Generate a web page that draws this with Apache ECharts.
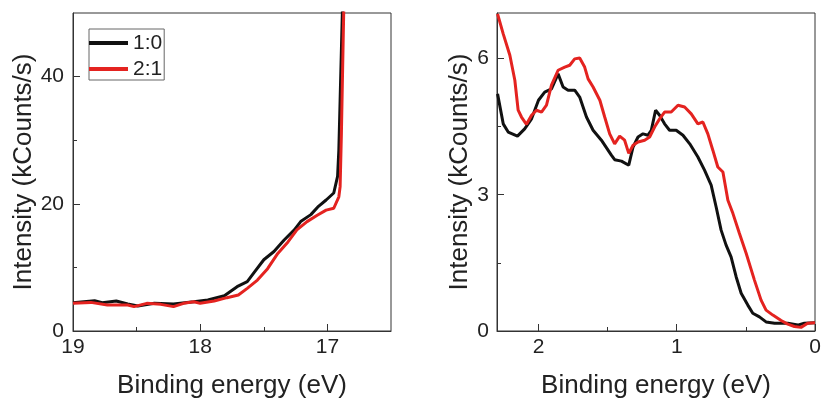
<!DOCTYPE html>
<html>
<head>
<meta charset="utf-8">
<script src="https://cdn.jsdelivr.net/npm/echarts@6/dist/echarts.min.js"></script>
<style>
html,body{margin:0;padding:0;background:#fff;}
#c{width:822px;height:401px;}
</style>
</head>
<body>
<div id="c"></div>
<script>
// ---- Left panel (secondary electron cut-off) ----
const leftE_10 = [19.0, 18.83, 18.77, 18.66, 18.57, 18.49, 18.36, 18.21, 18.05, 17.94, 17.81, 17.71, 17.63, 17.58, 17.50, 17.42, 17.34, 17.26, 17.21, 17.13, 17.07, 17.01, 16.95, 16.92, 16.91, 16.90, 16.88];
const leftI_10 = [4.45, 4.76, 4.45, 4.71, 4.24, 3.93, 4.35, 4.24, 4.61, 4.87, 5.55, 6.97, 7.76, 9.1, 11.2, 12.5, 14.3, 15.9, 17.2, 18.3, 19.6, 20.6, 21.7, 24.3, 28.5, 36.3, 52];
const leftE_21 = [19.0, 18.86, 18.73, 18.57, 18.52, 18.42, 18.31, 18.21, 18.13, 18.05, 18.0, 17.89, 17.79, 17.70, 17.63, 17.55, 17.47, 17.39, 17.31, 17.24, 17.16, 17.08, 17.01, 16.95, 16.91, 16.90, 16.89, 16.87];
const leftI_21 = [4.35, 4.5, 4.09, 4.09, 3.83, 4.35, 4.19, 3.83, 4.35, 4.61, 4.35, 4.71, 5.24, 5.66, 6.7, 8.0, 9.8, 12.2, 14.0, 15.9, 17.2, 18.2, 19.0, 19.3, 21.1, 22.7, 31, 52];

// ---- Right panel (valence band) ----
const rightE_10 = [2.296, 2.255, 2.219, 2.152, 2.10, 2.05, 2.0, 1.955, 1.906, 1.858, 1.822, 1.786, 1.738, 1.702, 1.653, 1.605, 1.545, 1.473, 1.449, 1.40, 1.347, 1.316, 1.28, 1.244, 1.208, 1.184, 1.153, 1.124, 1.088, 1.052, 1.004, 0.955, 0.906, 0.847, 0.799, 0.751, 0.715, 0.679, 0.643, 0.607, 0.570, 0.534, 0.486, 0.450, 0.402, 0.354, 0.292, 0.197, 0.125, 0.077, 0.0];
const rightI_10 = [5.22, 4.56, 4.38, 4.29, 4.45, 4.67, 5.08, 5.26, 5.33, 5.66, 5.37, 5.30, 5.30, 5.15, 4.71, 4.42, 4.20, 3.87, 3.77, 3.74, 3.65, 4.05, 4.27, 4.34, 4.31, 4.42, 4.86, 4.75, 4.56, 4.42, 4.42, 4.31, 4.12, 3.83, 3.54, 3.21, 2.73, 2.22, 1.89, 1.63, 1.19, 0.83, 0.57, 0.39, 0.31, 0.20, 0.17, 0.17, 0.13, 0.17, 0.18];
const rightE_21 = [2.296, 2.255, 2.207, 2.171, 2.147, 2.123, 2.087, 2.05, 2.014, 1.978, 1.942, 1.906, 1.858, 1.81, 1.774, 1.738, 1.702, 1.666, 1.641, 1.605, 1.556, 1.521, 1.485, 1.449, 1.413, 1.377, 1.347, 1.316, 1.28, 1.232, 1.196, 1.16, 1.124, 1.088, 1.04, 0.991, 0.943, 0.895, 0.847, 0.811, 0.775, 0.739, 0.703, 0.666, 0.630, 0.594, 0.547, 0.498, 0.438, 0.39, 0.354, 0.305, 0.245, 0.197, 0.149, 0.101, 0.053, 0.0];
const rightI_21 = [6.98, 6.54, 6.07, 5.52, 4.86, 4.71, 4.55, 4.75, 4.86, 4.82, 4.97, 5.41, 5.74, 5.81, 5.85, 5.99, 6.01, 5.81, 5.55, 5.37, 5.08, 4.71, 4.34, 4.12, 4.29, 4.20, 3.91, 4.09, 4.16, 4.20, 4.27, 4.49, 4.67, 4.82, 4.82, 4.97, 4.93, 4.78, 4.56, 4.60, 4.34, 3.98, 3.61, 3.50, 2.88, 2.59, 2.15, 1.71, 1.12, 0.68, 0.46, 0.35, 0.23, 0.15, 0.10, 0.08, 0.17, 0.18];

// ---- Axis ticks ----
const seriesNames = ['1:0', '2:1'];
const leftXLabels = [17, 18, 19];
const leftXMinor = [17.5, 18.5];
const leftYLabels = [0, 20, 40];
const leftYMinor = [10, 30];
const rightXLabels = [0, 1, 2];
const rightXMinor = [0.5, 1.5];
const rightYLabels = [0, 3, 6];
const rightYMinor = [1.5, 4.5];
const xTitle = 'Binding energy (eV)';
const yTitle = 'Intensity (kCounts/s)';

const FONT = '"Liberation Sans", Arial, sans-serif';
const AX = '#333';
const TXT = '#222';
const BLACK = '#111111';
const RED = '#e42320';

function pairs(xs, ys) { return xs.map((x, i) => [x, ys[i]]); }

function majorAxis(pos, gridIndex, min, max, inverse, labels, name, nameGap, margin) {
  return {
    type: 'value', gridIndex, min, max, inverse, position: pos,
    name, nameLocation: 'middle', nameGap,
    nameTextStyle: { fontFamily: FONT, fontSize: 26, color: TXT },
    axisLine: { show: true, onZero: false, lineStyle: { color: AX, width: 1 } },
    axisTick: { show: true, inside: true, length: 7, customValues: labels, lineStyle: { color: AX, width: 1 } },
    axisLabel: { show: true, customValues: labels, margin, fontFamily: FONT, fontSize: 21, color: TXT },
    splitLine: { show: false }
  };
}
function minorAxis(pos, gridIndex, min, max, inverse, ticks) {
  return {
    type: 'value', gridIndex, min, max, inverse, position: pos,
    axisLine: { show: false, onZero: false },
    axisTick: { show: true, inside: true, length: 4, customValues: ticks, lineStyle: { color: AX, width: 1 } },
    axisLabel: { show: false },
    splitLine: { show: false }
  };
}

const option = {
  animation: false,
  backgroundColor: '#ffffff',
  grid: [
    { left: 73, top: 13, width: 318, height: 318, outerBoundsMode: 'none', containLabel: false, show: true, borderColor: AX, borderWidth: 1, backgroundColor: 'transparent' },
    { left: 497, top: 13, width: 318, height: 318, outerBoundsMode: 'none', containLabel: false, show: true, borderColor: AX, borderWidth: 1, backgroundColor: 'transparent' }
  ],
  xAxis: [
    majorAxis('bottom', 0, 16.5, 19, true, leftXLabels, xTitle, 42, 6),
    majorAxis('bottom', 1, 0, 2.3, true, rightXLabels, xTitle, 42, 6),
    minorAxis('bottom', 0, 16.5, 19, true, leftXMinor),
    minorAxis('bottom', 1, 0, 2.3, true, rightXMinor)
  ],
  yAxis: [
    majorAxis('left', 0, 0, 50, false, leftYLabels, yTitle, 35, 9),
    majorAxis('left', 1, 0, 7, false, rightYLabels, yTitle, 24, 8),
    minorAxis('left', 0, 0, 50, false, leftYMinor),
    minorAxis('left', 1, 0, 7, false, rightYMinor)
  ],
  legend: {
    data: seriesNames,
    orient: 'vertical',
    left: 89, top: 29,
    icon: 'rect',
    itemWidth: 39, itemHeight: 4, itemGap: 4,
    padding: [3, 2, 0, 0],
    borderColor: '#666', borderWidth: 1,
    textStyle: { fontFamily: FONT, fontSize: 21, color: TXT, lineHeight: 22 }
  },
  series: [
    { name: '1:0', type: 'line', xAxisIndex: 0, yAxisIndex: 0, data: pairs(leftE_10, leftI_10), symbol: 'none', clip: true, z: 3, lineStyle: { color: BLACK, width: 3 }, itemStyle: { color: BLACK } },
    { name: '2:1', type: 'line', xAxisIndex: 0, yAxisIndex: 0, data: pairs(leftE_21, leftI_21), symbol: 'none', clip: true, z: 4, lineStyle: { color: RED, width: 3 }, itemStyle: { color: RED } },
    { name: '1:0', type: 'line', xAxisIndex: 1, yAxisIndex: 1, data: pairs(rightE_10, rightI_10), symbol: 'none', clip: true, z: 3, lineStyle: { color: BLACK, width: 3 }, itemStyle: { color: BLACK } },
    { name: '2:1', type: 'line', xAxisIndex: 1, yAxisIndex: 1, data: pairs(rightE_21, rightI_21), symbol: 'none', clip: true, z: 4, lineStyle: { color: RED, width: 3 }, itemStyle: { color: RED } }
  ]
};

const chart = echarts.init(document.getElementById('c'), null, { renderer: 'canvas' });
chart.setOption(option);
</script>
</body>
</html>
